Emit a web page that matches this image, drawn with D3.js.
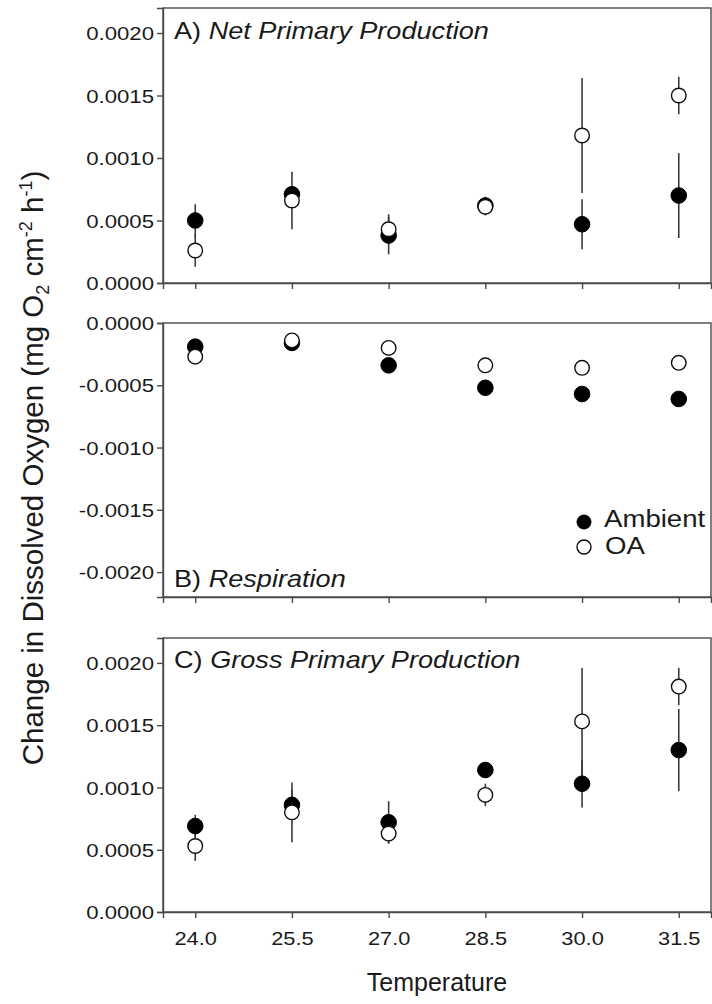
<!DOCTYPE html>
<html>
<head>
<meta charset="utf-8">
<script src="https://cdn.jsdelivr.net/npm/d3@7"></script>
<style>
  html, body { margin: 0; padding: 0; background: #fff; }
  svg { display: block; }
  text { font-family: "Liberation Sans", Arial, sans-serif; fill: #1a1a1a; }
</style>
</head>
<body>
<svg id="chart" width="712" height="1004"></svg>
<script>
// ---- data ----
const temps = [24.0, 25.5, 27.0, 28.5, 30.0, 31.5];
const xTickLabels = ["24.0", "25.5", "27.0", "28.5", "30.0", "31.5"];

const nppAmbient    = [0.00050, 0.00071, 0.00038, 0.00062, 0.00047, 0.00070];
const nppAmbientErr = [0.00013, 0.00004, 0.00015, 0.00007, 0.00020, 0.00034];
const nppOA         = [0.00026, 0.00066, 0.00043, 0.00061, 0.00118, 0.00150];
const nppOAErr      = [0.00013, 0.00023, 0.00012, 0.00007, 0.00046, 0.00015];

const respAmbient    = [-0.00019, -0.00016, -0.00034, -0.00052, -0.00057, -0.00061];
const respAmbientErr = [0.00003, 0.00003, 0.00003, 0.00003, 0.00003, 0.00003];
const respOA         = [-0.00027, -0.00014, -0.00020, -0.00034, -0.00036, -0.00032];
const respOAErr      = [0.00003, 0.00003, 0.00003, 0.00003, 0.00003, 0.00003];

const gppAmbient    = [0.00069, 0.00086, 0.00072, 0.00114, 0.00103, 0.00130];
const gppAmbientErr = [0.00009, 0.00012, 0.00017, 0.00003, 0.00019, 0.00033];
const gppOA         = [0.00053, 0.00080, 0.00063, 0.00094, 0.00153, 0.00181];
const gppOAErr      = [0.00012, 0.00024, 0.00008, 0.00009, 0.00043, 0.00015];

const yTicksPos = [0, 0.0005, 0.0010, 0.0015, 0.0020];
const yTickLabelsPos = ["0.0000", "0.0005", "0.0010", "0.0015", "0.0020"];
const yTicksNeg = [0, -0.0005, -0.0010, -0.0015, -0.0020];
const yTickLabelsNeg = ["0.0000", "-0.0005", "-0.0010", "-0.0015", "-0.0020"];

const seriesNames = ["Ambient", "OA"];

// ---- layout ----
const svg = d3.select("#chart");
const left = 163, right = 711;
const x = d3.scaleLinear().domain([23.5, 32.0]).range([left, right]);

const panels = [
  { top: 8,   bottom: 283, domain: [0, 0.0022],  ticks: yTicksPos, labels: yTickLabelsPos,
    amb: nppAmbient, ambErr: nppAmbientErr, oa: nppOA, oaErr: nppOAErr,
    letter: "A) ", title: "Net Primary Production", titleY: 39, xLabels: false },
  { top: 323, bottom: 597, domain: [-0.0022, 0], ticks: yTicksNeg, labels: yTickLabelsNeg,
    amb: respAmbient, ambErr: respAmbientErr, oa: respOA, oaErr: respOAErr,
    letter: "B) ", title: "Respiration", titleY: 587, xLabels: false, legend: true },
  { top: 638, bottom: 912, domain: [0, 0.0022],  ticks: yTicksPos, labels: yTickLabelsPos,
    amb: gppAmbient, ambErr: gppAmbientErr, oa: gppOA, oaErr: gppOAErr,
    letter: "C) ", title: "Gross Primary Production", titleY: 668, xLabels: true }
];

const lineColor = "#4a4a4a";
const stretch = 1.2;

panels.forEach(p => {
  const y = d3.scaleLinear().domain(p.domain).range([p.bottom, p.top]);
  const g = svg.append("g");

  // frame
  g.append("rect")
    .attr("x", left).attr("y", p.top)
    .attr("width", right - left).attr("height", p.bottom - p.top)
    .attr("fill", "none").attr("stroke", lineColor).attr("stroke-width", 1.4);

  // y axis
  const yAxis = d3.axisLeft(y).tickValues(p.ticks).tickSize(6)
    .tickFormat((d, i) => p.labels[i]);
  const ya = g.append("g").attr("transform", `translate(${left},0)`).call(yAxis);
  ya.select(".domain").attr("stroke", lineColor).attr("stroke-width", 1.4);
  ya.selectAll(".tick line").attr("stroke", lineColor).attr("stroke-width", 1.4);
  ya.selectAll(".tick text")
    .attr("x", -9 / stretch).attr("dy", "0.36em")
    .attr("transform", `scale(${stretch},1)`)
    .style("font-family", "'Liberation Sans', Arial, sans-serif")
    .style("font-size", "18.5px").attr("fill", "#111");

  // x axis
  const xAxis = d3.axisBottom(x).tickValues(temps).tickSize(6)
    .tickFormat((d, i) => p.xLabels ? xTickLabels[i] : "");
  const xa = g.append("g").attr("transform", `translate(0,${p.bottom})`).call(xAxis);
  xa.select(".domain").attr("stroke", lineColor).attr("stroke-width", 1.4);
  xa.selectAll(".tick line").attr("stroke", lineColor).attr("stroke-width", 1.4);
  xa.selectAll(".tick text")
    .attr("y", 33).attr("dy", 0)
    .attr("transform", `scale(1.15,1)`)
    .style("font-family", "'Liberation Sans', Arial, sans-serif")
    .style("font-size", "19px").attr("fill", "#111");

  // error bars
  const bars = [];
  temps.forEach((t, i) => {
    bars.push({ t, v: p.amb[i], e: p.ambErr[i] });
    bars.push({ t, v: p.oa[i], e: p.oaErr[i] });
  });
  g.selectAll(".err").data(bars).enter().append("line")
    .attr("x1", d => x(d.t)).attr("x2", d => x(d.t))
    .attr("y1", d => y(d.v - d.e)).attr("y2", d => y(d.v + d.e))
    .attr("stroke", "#3a3a3a").attr("stroke-width", 1.6);

  // markers: Ambient filled, OA open (drawn on top)
  g.selectAll(".amb").data(temps).enter().append("circle")
    .attr("cx", d => x(d)).attr("cy", (d, i) => y(p.amb[i])).attr("r", 7.8)
    .attr("fill", "#000").attr("stroke", "#000").attr("stroke-width", 1);
  g.selectAll(".oa").data(temps).enter().append("circle")
    .attr("cx", d => x(d)).attr("cy", (d, i) => y(p.oa[i])).attr("r", 7.3)
    .attr("fill", "#fff").attr("stroke", "#111").attr("stroke-width", 1.4);

  // title
  const tt = g.append("text")
    .attr("transform", `translate(174,${p.titleY}) scale(1.13,1)`)
    .style("font-size", "24px");
  tt.append("tspan").text(p.letter);
  tt.append("tspan").style("font-style", "italic").text(p.title);

  // legend
  if (p.legend) {
    const lg = g.append("g");
    const ly = [522, 547];
    seriesNames.forEach((name, i) => {
      lg.append("circle").attr("cx", 584).attr("cy", ly[i]).attr("r", 7)
        .attr("fill", i === 0 ? "#000" : "#fff").attr("stroke", "#000").attr("stroke-width", i === 0 ? 1 : 1.3);
      lg.append("text")
        .attr("transform", `translate(${i === 0 ? 604 : 605},${ly[i] + 5 + i * 1.5}) scale(1.15,1)`)
        .style("font-size", "24px").text(name);
    });
  }
});

// x-axis title
svg.append("text")
  .attr("transform", `translate(437,991)`)
  .attr("text-anchor", "middle")
  .style("font-size", "25px")
  .text("Temperature");

// y-axis title
const yl = svg.append("text")
  .attr("transform", `translate(43,468) rotate(-90)`)
  .attr("text-anchor", "middle")
  .style("font-size", "29.5px");
yl.append("tspan").text("Change in Dissolved Oxygen (mg O");
yl.append("tspan").attr("dy", 6).style("font-size", "18px").text("2");
yl.append("tspan").attr("dy", -6).text(" cm");
yl.append("tspan").attr("dy", -11).style("font-size", "18px").text("-2");
yl.append("tspan").attr("dy", 11).text(" h");
yl.append("tspan").attr("dy", -11).style("font-size", "18px").text("-1");
yl.append("tspan").attr("dy", 11).text(")");
</script>
</body>
</html>
